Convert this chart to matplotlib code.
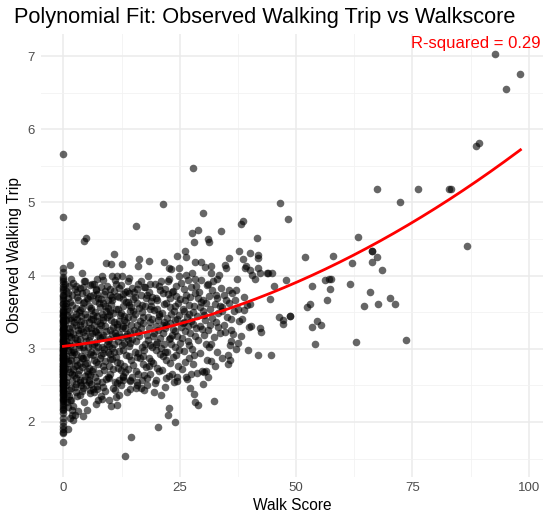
import numpy as np
import matplotlib
matplotlib.use("Agg")
import matplotlib.pyplot as plt

# walk score = 0 column (y values only)
zero_col_y = [4.10, 4.05, 3.98, 3.93, 3.88, 3.84, 3.79, 3.74, 3.70, 3.66, 3.61, 3.57,
              3.53, 3.48, 3.44, 3.40, 3.36, 3.31, 3.27, 3.23, 3.19, 3.14, 3.10, 3.06,
              3.02, 2.98, 2.94, 2.89, 2.85, 2.81, 2.77, 2.72, 2.68, 2.64, 2.59, 2.55,
              2.51, 2.46, 2.42, 2.37, 2.33, 2.28, 2.23, 2.18, 2.12, 2.06, 2.00, 1.95,
              1.90, 1.86, 3.95, 3.81, 3.63, 3.50, 3.38, 3.25, 3.12, 3.00, 2.87, 2.75,
              2.62, 2.49, 2.35, 2.20, 3.72, 3.46, 3.17, 2.92, 2.70, 2.52, 1.73, 1.85,
              4.80, 5.66,
              3.52, 3.45, 3.39, 3.33, 3.28, 3.21, 3.15, 3.09, 3.04, 2.99, 2.95, 2.91,
              2.88, 2.84, 2.80, 2.76, 2.73, 2.69, 2.65, 2.61, 2.57, 2.53, 2.48, 2.44,
              2.40, 2.31, 2.26, 2.16, 3.35, 3.20, 3.07, 2.97, 2.90, 2.83, 2.78, 2.71,
              2.66, 2.58, 2.50, 2.43, 2.30, 3.26, 3.01, 2.86, 2.74, 2.63, 2.54, 2.38,
              3.11, 2.93, 2.79, 2.67, 2.56, 2.45]

# dense cloud, x < 40
core_pts = [
    (1.2, 3.86), (3.5, 3.83), (5.8, 3.87), (8.1, 3.84), (9.9, 3.82), (12.4, 3.87), (14.7, 3.83),
    (17.3, 3.85), (19.6, 3.88), (21.9, 3.82), (24.2, 3.86), (27.5, 3.84), (30.8, 3.87), (33.9, 3.83),
    (0.6, 3.79), (2.4, 3.81), (4.9, 3.78), (7.0, 3.82), (10.8, 3.79), (13.2, 3.77), (15.9, 3.81),
    (18.4, 3.78), (20.7, 3.80), (23.3, 3.77), (25.8, 3.81), (29.1, 3.78), (32.0, 3.80), (36.2, 3.76),
    (1.8, 3.74), (3.9, 3.76), (6.3, 3.73), (8.8, 3.75), (11.6, 3.72), (14.0, 3.76), (16.6, 3.74),
    (19.1, 3.71), (22.4, 3.75), (26.4, 3.73), (28.3, 3.76), (31.2, 3.72), (34.4, 3.74), (38.9, 3.71),
    (0.9, 3.69), (2.9, 3.71), (5.2, 3.68), (7.5, 3.70), (9.6, 3.67), (12.0, 3.71), (14.9, 3.68),
    (17.8, 3.69), (20.2, 3.66), (23.0, 3.70), (25.1, 3.68), (27.2, 3.71), (30.0, 3.67), (33.1, 3.69),
    (36.8, 3.66),
    (1.5, 3.64), (4.2, 3.62), (6.7, 3.65), (8.5, 3.63), (10.3, 3.61), (13.5, 3.64), (15.7, 3.62),
    (18.9, 3.65), (21.5, 3.61), (24.6, 3.63), (26.9, 3.60), (29.6, 3.64), (32.6, 3.61), (35.5, 3.63),
    (39.5, 3.60),
    (0.4, 3.58), (2.6, 3.56), (5.5, 3.59), (7.9, 3.57), (11.2, 3.55), (12.8, 3.58), (16.2, 3.56),
    (17.6, 3.59), (20.1, 3.55), (22.8, 3.57), (25.6, 3.54), (28.0, 3.58), (31.5, 3.55), (34.0, 3.57),
    (37.4, 3.54),
    (1.1, 3.52), (3.3, 3.50), (6.0, 3.53), (9.1, 3.51), (10.7, 3.49), (14.3, 3.52), (16.9, 3.50),
    (19.5, 3.53), (21.2, 3.49), (23.7, 3.51), (27.0, 3.48), (29.9, 3.52), (33.3, 3.49), (36.6, 3.51),
    (0.7, 3.46), (2.2, 3.44), (4.6, 3.47), (7.3, 3.45), (9.4, 3.43), (12.2, 3.46), (13.9, 3.44),
    (15.4, 3.47), (18.1, 3.43), (20.6, 3.45), (22.3, 3.42), (24.9, 3.46), (26.6, 3.43), (28.8, 3.45),
    (31.9, 3.42), (35.1, 3.44), (38.3, 3.41),
    (1.6, 3.40), (3.7, 3.38), (5.9, 3.41), (8.4, 3.39), (10.9, 3.37), (13.1, 3.40), (16.4, 3.38),
    (19.0, 3.41), (21.7, 3.37), (23.9, 3.39), (26.0, 3.36), (30.4, 3.40), (32.8, 3.37), (37.8, 3.38),
    (0.3, 3.34), (2.7, 3.32), (4.4, 3.35), (6.5, 3.33), (9.0, 3.31), (11.4, 3.34), (14.6, 3.32),
    (17.1, 3.35), (19.9, 3.31), (22.1, 3.33), (25.3, 3.30), (27.8, 3.34), (29.3, 3.31), (34.6, 3.32),
    (1.3, 3.28), (3.1, 3.26), (5.3, 3.29), (7.7, 3.27), (10.0, 3.25), (12.5, 3.28), (15.2, 3.26),
    (18.3, 3.29), (20.4, 3.25), (23.5, 3.27), (26.2, 3.24), (28.5, 3.28), (31.0, 3.25), (36.0, 3.26),
    (0.8, 3.22), (2.0, 3.20), (4.1, 3.23), (6.2, 3.21), (8.6, 3.19), (11.0, 3.22), (13.6, 3.20),
    (16.0, 3.23), (17.9, 3.19), (21.3, 3.21), (24.4, 3.18), (27.3, 3.22), (30.2, 3.19), (33.6, 3.21),
    (1.7, 3.16), (3.6, 3.14), (5.6, 3.17), (7.8, 3.15), (9.8, 3.13), (12.3, 3.16), (14.8, 3.14),
    (19.3, 3.17), (22.6, 3.13), (25.5, 3.15), (28.9, 3.12), (32.3, 3.16),
    (0.5, 3.10), (2.5, 3.08), (4.8, 3.11), (6.9, 3.09), (9.3, 3.07), (11.7, 3.10), (13.0, 3.08),
    (15.6, 3.11), (17.5, 3.07), (20.0, 3.09), (23.1, 3.06), (26.8, 3.10), (30.6, 3.07), (35.8, 3.05),
    (1.4, 3.04), (3.4, 3.02), (6.1, 3.05), (8.2, 3.03), (10.5, 3.01), (14.1, 3.04), (16.8, 3.02),
    (18.6, 3.05), (21.0, 3.01), (24.0, 3.03), (27.6, 3.00), (31.3, 3.02),
    (0.9, 2.98), (2.3, 2.96), (4.5, 2.99), (7.1, 2.97), (9.5, 2.95), (12.7, 2.98), (15.3, 2.96),
    (19.8, 2.99), (22.2, 2.95), (25.9, 2.97), (29.4, 2.94), (33.0, 2.96),
    (1.9, 2.92), (3.8, 2.90), (5.7, 2.93), (8.0, 2.91), (11.3, 2.89), (13.4, 2.92), (17.0, 2.90),
    (20.8, 2.93), (23.6, 2.89), (28.1, 2.91), (34.1, 2.88),
    (0.6, 2.86), (2.8, 2.84), (4.3, 2.87), (6.6, 2.85), (8.9, 2.83), (10.4, 2.86), (14.5, 2.84),
    (16.5, 2.87), (18.8, 2.83), (22.0, 2.85), (26.1, 2.82), (30.9, 2.84),
    (1.2, 2.80), (3.0, 2.78), (5.0, 2.81), (7.4, 2.79), (9.7, 2.77), (12.1, 2.80), (15.0, 2.78),
    (19.2, 2.81), (24.7, 2.77), (27.9, 2.79), (32.5, 2.76),
    (0.4, 2.74), (2.1, 2.72), (4.0, 2.75), (6.4, 2.73), (8.7, 2.71), (11.8, 2.74), (13.8, 2.72),
    (17.7, 2.75), (21.1, 2.71), (25.4, 2.73), (29.8, 2.70),
    (1.5, 2.68), (3.2, 2.66), (5.1, 2.69), (7.6, 2.67), (10.1, 2.65), (13.3, 2.68), (16.1, 2.66),
    (20.5, 2.69), (23.4, 2.65), (28.6, 2.67),
    (0.8, 2.62), (2.6, 2.60), (4.7, 2.63), (6.8, 2.61), (9.2, 2.59), (12.9, 2.62), (18.0, 2.60),
    (22.7, 2.63), (26.5, 2.59), (31.1, 2.61),
    (1.8, 2.56), (3.5, 2.54), (5.4, 2.57), (8.3, 2.55), (11.5, 2.53), (14.2, 2.56), (19.7, 2.53),
    (24.3, 2.56), (30.0, 2.52),
    (0.5, 2.50), (2.4, 2.48), (4.9, 2.51), (7.2, 2.49), (10.6, 2.47), (15.8, 2.50), (21.8, 2.48),
    (27.1, 2.46),
    (1.3, 2.44), (3.9, 2.42), (6.3, 2.45), (9.0, 2.43), (13.7, 2.41), (17.4, 2.44),
    (0.7, 2.38), (2.9, 2.36), (5.8, 2.39), (8.0, 2.35), (11.2, 2.34),
    (1.6, 2.30), (4.4, 2.27), (7.0, 2.25), (10.3, 2.22), (0.9, 2.20), (3.1, 2.15), (2.4, 2.10),
]

# second, offset layer of the dense cloud
core2_pts = [
    (2.0, 3.90), (4.5, 3.93), (6.9, 3.80), (9.3, 3.86), (11.9, 3.83), (13.7, 3.79), (16.1, 3.89),
    (18.0, 3.74), (20.9, 3.92), (23.6, 3.79), (25.3, 3.90), (28.9, 3.70), (32.7, 3.74),
    (1.0, 3.76), (3.2, 3.66), (5.6, 3.72), (7.7, 3.62), (10.1, 3.74), (12.7, 3.68), (15.3, 3.71),
    (16.8, 3.60), (19.8, 3.70), (21.4, 3.76), (24.0, 3.58), (26.2, 3.66), (30.6, 3.62), (34.9, 3.67),
    (0.5, 3.62), (2.8, 3.48), (4.0, 3.56), (6.4, 3.46), (8.9, 3.58), (10.0, 3.52), (12.4, 3.49),
    (14.6, 3.57), (17.2, 3.44), (18.7, 3.54), (22.0, 3.62), (23.2, 3.47), (25.9, 3.51), (29.3, 3.57),
    (33.6, 3.58),
    (1.4, 3.42), (3.6, 3.33), (5.1, 3.44), (7.2, 3.38), (9.8, 3.46), (11.5, 3.30), (13.4, 3.36),
    (15.8, 3.33), (18.6, 3.37), (20.3, 3.40), (22.8, 3.35), (24.5, 3.41), (27.4, 3.38), (31.4, 3.33),
    (35.9, 3.41),
    (0.2, 3.28), (2.3, 3.37), (4.8, 3.26), (6.7, 3.24), (8.1, 3.32), (10.5, 3.20), (12.9, 3.31),
    (14.2, 3.23), (16.7, 3.28), (19.4, 3.22), (21.8, 3.29), (23.9, 3.24), (26.8, 3.31), (29.7, 3.27),
    (33.2, 3.30),
    (1.1, 3.18), (3.4, 3.21), (5.4, 3.12), (7.4, 3.19), (9.6, 3.11), (11.3, 3.17), (13.9, 3.13),
    (16.3, 3.18), (18.2, 3.12), (20.7, 3.15), (23.3, 3.19), (25.1, 3.08), (28.2, 3.17),
    (0.7, 3.05), (2.9, 3.12), (4.2, 3.02), (6.5, 3.07), (8.7, 3.00), (10.9, 3.06), (12.0, 2.97),
    (14.4, 3.08), (17.3, 2.98), (19.1, 3.03), (21.6, 3.07), (24.8, 2.99), (27.0, 3.05),
    (1.6, 2.95), (3.9, 2.87), (5.9, 2.96), (7.8, 2.88), (9.9, 2.93), (11.6, 2.82), (14.0, 2.90),
    (16.0, 2.94), (18.4, 2.87), (21.3, 2.90), (24.2, 2.92),
    (0.9, 2.83), (2.5, 2.76), (4.6, 2.79), (6.2, 2.70), (8.4, 2.76), (10.7, 2.72), (13.0, 2.76),
    (15.5, 2.70), (17.1, 2.79), (20.1, 2.74), (23.0, 2.80),
    (1.9, 2.65), (3.6, 2.58), (5.6, 2.64), (7.3, 2.56), (9.5, 2.62), (11.0, 2.55), (14.8, 2.61),
    (16.9, 2.57),
    (2.7, 2.52), (4.1, 2.46), (6.0, 2.52), (8.6, 2.48), (12.4, 2.50),
]

# third layer, densest part (x < 16, y 3.0 - 3.95) plus scattered fill
core3_pts = [
    (0.3, 3.88), (1.7, 3.95), (2.6, 3.86), (3.0, 3.78), (4.1, 3.84), (5.0, 3.70), (6.1, 3.88),
    (7.3, 3.75), (8.0, 3.68), (9.0, 3.79), (10.5, 3.71), (11.2, 3.88), (12.9, 3.75), (13.8, 3.64),
    (15.1, 3.77),
    (0.8, 3.55), (1.9, 3.60), (3.6, 3.53), (4.5, 3.64), (5.9, 3.56), (6.8, 3.50), (8.2, 3.48),
    (9.5, 3.56), (10.4, 3.66), (11.7, 3.54), (13.0, 3.45), (14.1, 3.60), (15.0, 3.52),
    (0.6, 3.40), (1.9, 3.30), (2.9, 3.41), (3.8, 3.45), (5.5, 3.36), (6.3, 3.41), (7.9, 3.35),
    (8.6, 3.44), (10.2, 3.40), (12.0, 3.38), (13.2, 3.28), (14.9, 3.42),
    (0.4, 3.18), (1.5, 3.23), (2.4, 3.15), (3.8, 3.27), (4.6, 3.18), (6.0, 3.29), (7.1, 3.23),
    (8.3, 3.16), (9.1, 3.24), (10.6, 3.30), (11.9, 3.20), (13.5, 3.18),
    (0.2, 3.00), (1.3, 3.08), (2.0, 2.98), (3.3, 3.05), (5.3, 3.03), (6.3, 2.92), (7.5, 3.03),
    (8.4, 2.94), (9.7, 3.04), (10.8, 2.95), (12.6, 3.05),
    (17.5, 3.85), (18.9, 3.58), (20.6, 3.48), (21.4, 3.33), (22.9, 3.15), (19.9, 3.06), (22.5, 3.92),
    (24.1, 3.72), (25.7, 3.35), (27.9, 3.50), (28.4, 3.86), (30.1, 3.46), (31.8, 3.07), (32.2, 3.92),
    (34.1, 3.52), (35.5, 3.80), (36.4, 3.20), (37.2, 3.95), (38.8, 3.53), (39.8, 3.30),
    (0.5, 2.90), (1.7, 2.85), (2.6, 2.93), (3.5, 2.81), (4.8, 2.89), (5.5, 2.74), (6.9, 2.82),
    (1.0, 2.72), (2.2, 2.64), (3.3, 2.71), (4.4, 2.58), (5.2, 2.66), (0.6, 2.55), (1.7, 2.47),
    (2.8, 2.41), (3.7, 2.50), (1.2, 2.35), (0.8, 2.27), (2.0, 2.22), (1.5, 2.05),
    (9.9, 2.86), (12.3, 2.71), (15.9, 2.89), (18.3, 2.77), (21.9, 2.96), (26.9, 2.87),
]

# upper edge of the cloud (y ~ 3.9 - 4.7) and high outliers
upper_pts = [
    (4.4, 4.47), (4.9, 4.51), (15.5, 4.68), (27.7, 4.58), (29.0, 4.62), (28.0, 4.46),
    (31.0, 4.50), (31.2, 4.46), (33.9, 4.61), (38.2, 4.71), (38.6, 4.74), (41.5, 4.52),
    (10.8, 4.30), (24.5, 4.27), (26.1, 4.33), (26.4, 4.25), (37.8, 4.33), (40.0, 4.31),
    (41.8, 4.28), (41.9, 4.24), (16.3, 4.23), (18.4, 4.20), (21.6, 4.19), (9.2, 4.17),
    (10.2, 4.16), (12.6, 4.16), (16.0, 4.13), (1.5, 4.14), (28.2, 4.19), (29.5, 4.18),
    (30.4, 4.12), (31.7, 4.13), (34.8, 4.14), (35.5, 4.24), (38.6, 4.22), (39.3, 4.13),
    (40.0, 4.08), (41.8, 4.11), (44.0, 4.03), (44.8, 4.03), (3.9, 4.03), (4.7, 3.92),
    (6.5, 3.89), (7.2, 3.96), (8.3, 3.99), (8.6, 3.94), (10.4, 3.99), (11.1, 3.94),
    (11.6, 3.99), (12.6, 3.99), (14.0, 3.97), (13.8, 3.92), (16.6, 3.92), (18.2, 4.00),
    (18.7, 3.89), (20.5, 3.86), (22.7, 3.96), (23.1, 4.09), (22.6, 4.11), (24.8, 4.10),
    (24.8, 3.99), (26.3, 4.01), (26.7, 3.94), (27.7, 4.03), (28.2, 3.96), (29.5, 3.94),
    (31.0, 3.89), (31.7, 4.03), (33.0, 3.96), (33.5, 4.01), (35.0, 4.11), (37.1, 3.80),
    (39.1, 4.11), (40.5, 4.01), (41.1, 3.96), (42.3, 4.03), (43.8, 4.03), (45.3, 3.86),
    (40.1, 3.61), (44.3, 3.68),
    (27.9, 5.47), (21.4, 4.98), (29.9, 4.86), (46.6, 4.99), (48.3, 4.77),
]

# lower part of the cloud and low outliers
lower_pts = [
    (46.3, 3.44), (47.2, 3.39), (48.7, 3.45), (40.4, 3.31), (42.2, 3.28), (42.4, 3.23),
    (44.7, 2.92), (41.8, 2.92), (39.7, 2.99), (37.1, 3.00), (37.5, 3.08), (38.2, 3.17),
    (36.0, 3.10), (34.7, 3.23), (35.3, 2.92), (35.7, 2.85), (35.3, 2.79), (32.4, 2.29),
    (28.1, 2.38), (28.2, 2.27), (29.0, 2.23), (31.7, 2.83), (30.3, 2.68), (30.6, 2.70),
    (22.6, 2.19), (22.5, 2.09), (24.0, 2.00), (20.3, 1.93), (14.5, 1.80), (13.3, 1.53),
    (4.3, 2.08), (5.0, 2.17), (1.0, 1.91), (2.1, 2.03), (7.5, 2.30), (8.3, 2.32),
    (9.7, 2.30), (11.5, 2.23), (11.9, 2.37), (11.1, 2.44), (7.2, 2.45), (5.7, 2.44),
    (6.5, 2.41), (3.6, 2.37), (1.8, 2.10), (1.8, 2.16), (1.4, 2.30), (5.4, 2.55),
    (9.7, 2.60), (11.9, 2.57), (12.9, 2.57), (14.4, 2.57), (15.8, 2.55), (16.6, 2.47),
    (18.0, 2.51), (19.8, 2.57), (22.0, 2.60), (23.8, 2.55), (24.5, 2.62), (26.3, 2.62),
    (27.4, 2.66), (14.4, 2.45), (15.5, 2.46), (19.4, 2.41), (20.9, 2.37), (17.3, 2.64),
    (18.7, 2.66), (12.9, 2.63),
]

# sparse points, walk score > 45
right_pts = [
    (88.7, 5.77), (89.4, 5.81), (67.3, 5.18), (76.2, 5.18), (82.8, 5.18), (83.3, 5.18),
    (72.3, 5.00), (63.3, 4.53), (86.7, 4.40), (51.8, 4.25), (58.0, 4.27), (66.2, 4.33),
    (66.3, 4.34), (67.4, 4.26), (66.2, 4.19), (62.0, 4.17), (68.5, 4.08), (47.9, 3.94),
    (56.2, 3.94), (57.0, 3.95), (57.4, 3.95), (53.4, 3.86), (57.3, 3.82), (61.6, 3.88),
    (65.9, 3.77), (70.1, 3.70), (71.3, 3.61), (67.5, 3.61), (64.5, 3.59), (56.6, 3.66),
    (53.0, 3.61), (52.3, 3.57), (48.7, 3.45), (47.2, 3.34), (54.4, 3.38), (53.4, 3.30),
    (55.4, 3.32), (54.1, 3.07), (62.9, 3.09), (73.5, 3.12),
    (92.8, 7.03), (95.1, 6.55), (98.2, 6.75),
]

r2_label = "R-squared = 0.29"

walk_x = [0.0] * len(zero_col_y)
walk_y = list(zero_col_y)
for pts in (core_pts, core2_pts, core3_pts, upper_pts, lower_pts, right_pts):
    walk_x += [p[0] for p in pts]
    walk_y += [p[1] for p in pts]
walk_x = np.array(walk_x)
walk_y = np.array(walk_y)

# quadratic fit, like the original
coef = np.polyfit(walk_x, walk_y, 2)
xs = np.linspace(walk_x.min(), walk_x.max(), 200)
ys = np.polyval(coef, xs)

plt.rcParams['font.family'] = ['Liberation Sans', 'DejaVu Sans']

fig = plt.figure(figsize=(5.48, 5.23), dpi=100)
ax = fig.add_axes([40.6 / 548, 1 - 476.5 / 523, (543.3 - 40.6) / 548, (476.5 - 33.7) / 523])

ax.scatter(walk_x, walk_y, s=30, color="black", alpha=0.6, linewidths=0, zorder=3)
ax.plot(xs, ys, color="red", linewidth=2.0, zorder=4)

xpad = (walk_x.max() - walk_x.min()) * 0.05
ypad = (walk_y.max() - walk_y.min()) * 0.05
ax.set_xlim(walk_x.min() - xpad, walk_x.max() + xpad)
ax.set_ylim(walk_y.min() - ypad, walk_y.max() + ypad)

ax.set_xticks([0, 25, 50, 75, 100])
ax.set_xticks([12.5, 37.5, 62.5, 87.5], minor=True)
ax.set_yticks([2, 3, 4, 5, 6, 7])
ax.set_yticks([1.5, 2.5, 3.5, 4.5, 5.5, 6.5], minor=True)
ax.grid(which="major", color="#EBEBEB", linewidth=1.1, zorder=0)
ax.grid(which="minor", color="#F2F2F2", linewidth=0.6, zorder=0)
ax.set_axisbelow(True)
for s in ax.spines.values():
    s.set_visible(False)
ax.tick_params(which="both", length=0, labelsize=9.5, labelcolor="#4D4D4D", pad=4)

ax.set_xlabel("Walk Score", fontsize=11.2, labelpad=3)
ax.set_ylabel("Observed Walking Trip", fontsize=11.2, labelpad=4)
fig.text(14 / 548, 1 - 17 / 523, "Polynomial Fit: Observed Walking Trip vs Walkscore",
         fontsize=15.7, va="center", ha="left")
ax.text(0.994, 0.995, r2_label, transform=ax.transAxes, ha="right", va="top",
        color="red", fontsize=12)

fig.savefig("out.png", dpi=100)
